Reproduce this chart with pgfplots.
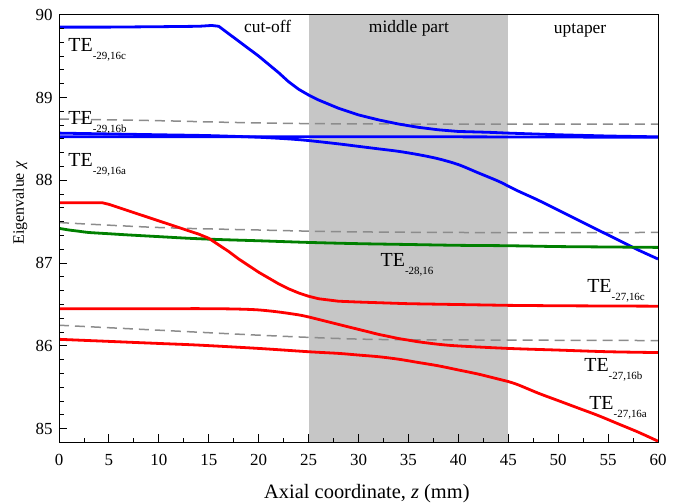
\documentclass[border=0pt]{standalone}
\usepackage{fontspec}
\setmainfont{Liberation Serif}
\usepackage{pgfplots}
\pgfplotsset{compat=1.18}

\definecolor{modeblue}{RGB}{0,0,255}
\definecolor{modered}{RGB}{255,0,0}
\definecolor{modegreen}{RGB}{0,128,0}
\definecolor{refgray}{RGB}{140,140,140}
\definecolor{taperfill}{RGB}{198,198,198}

% mode label: TE with a lowered index
\newcommand{\TE}[1]{{\fontsize{20}{22}\selectfont TE}\raisebox{-8bp}{\fontsize{11}{12}\selectfont #1}}

\begin{document}
\begin{tikzpicture}
\useasboundingbox (0,0) rectangle (681bp,504bp);
\begin{axis}[
  at={(59bp,62bp)}, anchor=south west,
  scale only axis, width=599bp, height=427.3bp,
  xmin=0, xmax=60, ymin=84.84, ymax=90,
  xtick={0,5,...,60}, minor x tick num=1,
  ytick={85,86,87,88,89,90}, minor y tick num=5,
  tick align=inside, tick pos=left,
  major tick length=8bp, minor tick length=4.5bp,
  axis line style={line width=1bp},
  every tick/.style={black, line width=0.9bp},
  tick label style={font=\fontsize{17}{19}\selectfont},
  xticklabel style={yshift=-9bp},
  yticklabel style={xshift=-3bp},
  /pgf/number format/assume math mode=true,
  xlabel={Axial coordinate, \textit{z} (mm)},
  xlabel style={font=\fontsize{20.5}{22}\selectfont, at={(rel axis cs:0.514,-0.133)}, anchor=base},
  ylabel={Eigenvalue \textit{χ}},
  ylabel style={font=\fontsize{16}{18}\selectfont, at={(rel axis cs:-0.065,0.559)}, anchor=center},
  axis on top,
]
% middle section of the taper
\addplot[draw=none, fill=taperfill] coordinates {(25,84.84) (25,90) (45,90) (45,84.84)} -- cycle;

% reference levels
\addplot[refgray, line width=1.5bp, dash pattern=on 10bp off 6bp, smooth] coordinates {
 (0,88.74) (10,88.72) (17,88.70) (25,88.685) (35,88.68) (60,88.68)};
\addplot[refgray, line width=1.5bp, dash pattern=on 10bp off 6bp, smooth] coordinates {
 (0,87.49) (10,87.43) (20,87.40) (28,87.38) (40,87.37) (60,87.37)};
\addplot[refgray, line width=1.5bp, dash pattern=on 10bp off 6bp, smooth] coordinates {
 (0,86.25) (10,86.19) (20,86.13) (28,86.09) (35,86.075) (60,86.065)};

% TE_{-29,16} family
\addplot[modeblue, line width=2.8bp] coordinates {
 (0,89.85) (5,89.85) (10,89.855) (14,89.86) (15.3,89.87) (16,89.86) (17,89.77)
 (18,89.68) (19,89.59) (20,89.50) (21,89.40) (22,89.30) (23,89.19) (24,89.10)
 (25,89.03) (26,88.97) (27,88.92) (28,88.87) (29,88.83) (30,88.79) (32,88.73)
 (34,88.68) (36,88.64) (38,88.61) (40,88.59) (43,88.58) (45,88.57) (50,88.55)
 (55,88.535) (60,88.525)};
\addplot[modeblue, line width=2.8bp] coordinates {
 (0,88.525) (20,88.525) (40,88.525) (60,88.52)};
\addplot[modeblue, line width=2.8bp, smooth] coordinates {
 (0,88.57) (5,88.56) (10,88.55) (15,88.54) (20,88.52) (23,88.50) (25,88.48)
 (28,88.44) (30,88.41) (32,88.38) (34,88.35) (36,88.31) (38,88.26) (40,88.19)
 (42,88.09) (44,87.99) (45,87.93) (46,87.87) (48,87.76) (50,87.64) (52,87.52)
 (54,87.40) (56,87.28) (58,87.16) (60,87.05)};

% TE_{-28,16}
\addplot[modegreen, line width=2.8bp, smooth] coordinates {
 (0,87.42) (1,87.40) (2,87.385) (3,87.37) (5,87.355) (7,87.34) (10,87.32)
 (13,87.30) (16,87.285) (20,87.27) (25,87.25) (30,87.235) (35,87.225)
 (40,87.215) (45,87.21) (50,87.20) (55,87.195) (60,87.19)};

% TE_{-27,16} family
\addplot[modered, line width=2.8bp] coordinates {
 (0,87.73) (4.3,87.73) (5,87.71) (6,87.67) (8,87.59) (10,87.51) (12,87.43)
 (14,87.35) (15,87.30) (16,87.22) (17,87.14) (18,87.05) (19,86.97) (20,86.89)
 (21,86.82) (22,86.75) (23,86.69) (24,86.64) (25,86.60) (26,86.57) (28,86.54)
 (30,86.53) (35,86.51) (40,86.50) (45,86.49) (50,86.485) (60,86.48)};
\addplot[modered, line width=2.8bp, smooth] coordinates {
 (0,86.45) (10,86.45) (15,86.45) (18,86.445) (20,86.435) (22,86.41) (24,86.375)
 (25,86.35) (26,86.32) (27,86.29) (28,86.26) (29,86.23) (30,86.20) (31,86.17)
 (32,86.14) (33,86.115) (34,86.09) (35,86.07) (36,86.05) (38,86.02) (40,86.00)
 (45,85.97) (50,85.95) (55,85.93) (60,85.92)};
\addplot[modered, line width=2.8bp, smooth] coordinates {
 (0,86.08) (5,86.055) (10,86.03) (14,86.01) (20,85.97) (25,85.93) (28,85.91)
 (30,85.89) (32,85.87) (34,85.84) (36,85.80) (38,85.76) (40,85.71) (42,85.66)
 (44,85.60) (45,85.57) (46,85.53) (48,85.43) (50,85.34) (52,85.25) (54,85.16)
 (56,85.06) (58,84.96) (60,84.85)};

% section names
\node[anchor=base, inner sep=0, font=\fontsize{17.5}{19}\selectfont] at (axis cs:20.9,89.79) {cut-off};
\node[anchor=base, inner sep=0, font=\fontsize{17.5}{19}\selectfont] at (axis cs:35.05,89.78) {middle part};
\node[anchor=base, inner sep=0, font=\fontsize{17.5}{19}\selectfont] at (axis cs:52.2,89.77) {uptaper};

% mode names
\node[anchor=base west, inner sep=0] at (axis cs:0.93,89.56) {\TE{-29,16c}};
\node[anchor=base west, inner sep=0] at (axis cs:0.93,88.68) {\TE{-29,16b}};
\node[anchor=base west, inner sep=0] at (axis cs:0.93,88.17) {\TE{-29,16a}};
\node[anchor=base west, inner sep=0] at (axis cs:32.2,86.96) {\TE{-28,16}};
\node[anchor=base west, inner sep=0] at (axis cs:52.9,86.64) {\TE{-27,16c}};
\node[anchor=base west, inner sep=0] at (axis cs:52.6,85.69) {\TE{-27,16b}};
\node[anchor=base west, inner sep=0] at (axis cs:53.1,85.23) {\TE{-27,16a}};
\end{axis}
\end{tikzpicture}
\end{document}
